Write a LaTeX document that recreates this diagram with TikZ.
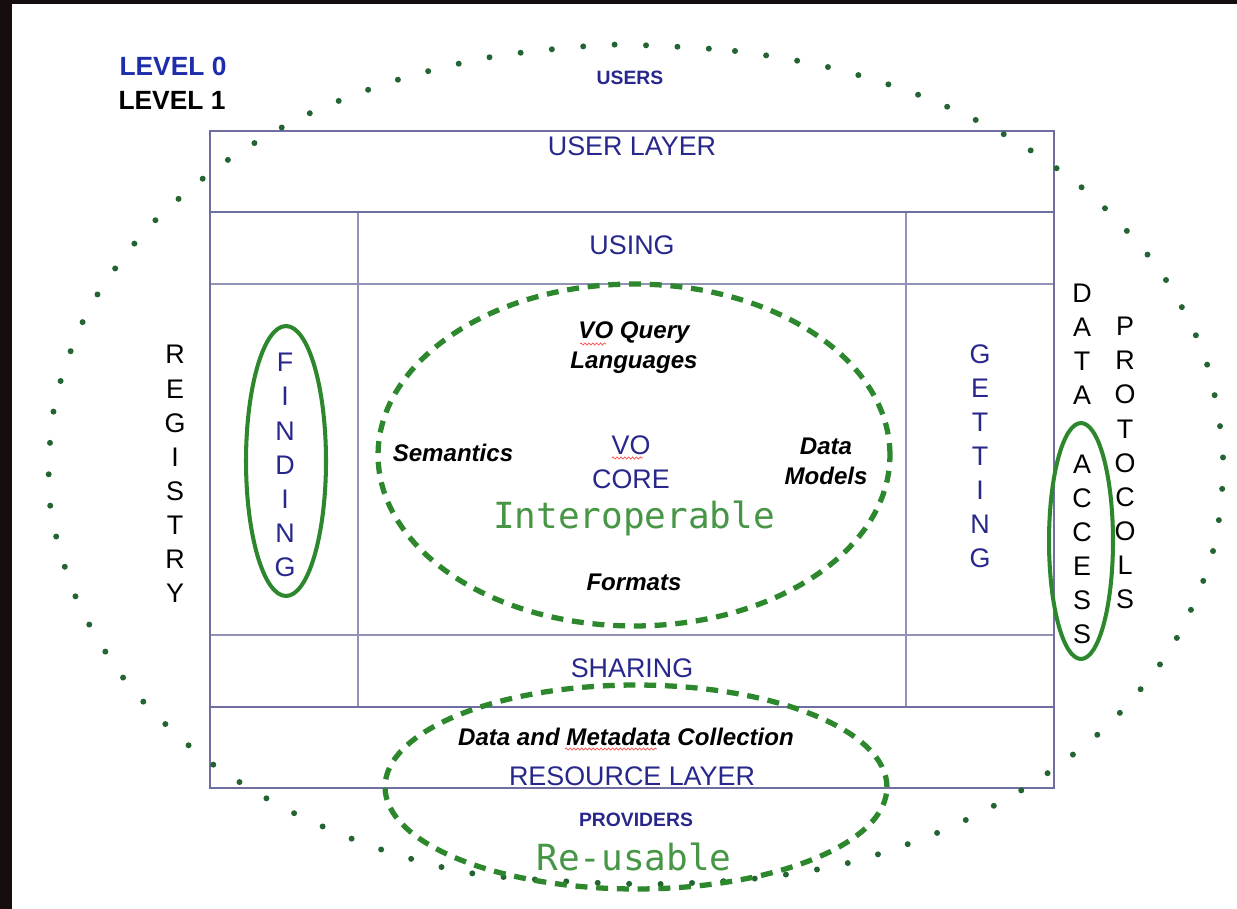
\documentclass[tikz,border=0pt]{standalone}
\usepackage{fontspec}
\setmainfont{Liberation Sans}
\newfontfamily\monofont{DejaVu Sans Mono}
\usepackage{tikz}
\usetikzlibrary{decorations.pathmorphing}
\definecolor{navy}{RGB}{40,40,140}
\definecolor{lvlblue}{RGB}{30,45,170}
\definecolor{linegray}{RGB}{110,110,160}
\definecolor{leaf}{RGB}{45,135,45}
\definecolor{dotgreen}{RGB}{35,100,50}
\definecolor{softgreen}{RGB}{70,150,70}
\definecolor{night}{RGB}{22,14,14}

\begin{document}
\begin{tikzpicture}[x=0.02cm,y=-0.02cm,
  frame/.style={draw=linegray, line width=1.1pt},
  gridline/.style={draw=linegray!75, line width=0.6pt},
  lay/.style={font=\fontsize{15.3}{19.4}\selectfont, text=navy},
  vert/.style={font=\fontsize{15.3}{19.4}\selectfont, align=center},
  lvl/.style={font=\bfseries\fontsize{15}{18}\selectfont},
  tag/.style={font=\bfseries\fontsize{11}{13}\selectfont, text=navy},
  topic/.style={font=\bfseries\itshape\fontsize{13.7}{17}\selectfont, align=center},
  fair/.style={font=\monofont\fontsize{20.5}{24}\selectfont, text=softgreen},
  ring/.style={draw=leaf, line width=2.3pt},
  core/.style={draw=leaf, line width=3pt, dash pattern=on 6.8pt off 5pt},
  dotring/.style={draw=dotgreen, line width=3.4pt, line cap=round, dash pattern=on 0pt off 17.9pt},
  spell/.style={draw=red!70, line width=0.4pt, decorate, decoration={snake, segment length=2.2pt, amplitude=0.6pt}}]
\useasboundingbox (0,0) rectangle (1237,909);
\fill[night] (0,0) rectangle (1237,909);
\fill[white] (12,4) rectangle (1237,909);

\draw[gridline] (210,284) -- (1054,284) (210,635) -- (1054,635)
  (358,212) -- (358,707) (906,212) -- (906,707);
\draw[frame] (210,131) rectangle (1054,788);
\draw[frame] (210,212) -- (1054,212) (210,707) -- (1054,707);

\draw[dotring] plot[smooth cycle] coordinates {(637,45) (735,51) (832,68) (924,97) (1014,140) (1093,197)
  (1160,271) (1205,358) (1223,457) (1212,555) (1171,648) (1108,725) (1030,785) (944,830) (852,862)
  (760,878) (660,884) (560,881) (464,872) (371,846) (282,807) (199,754) (128,684) (77,600) (50,504)
  (55,403) (89,309) (147,229) (222,164) (306,115) (397,80) (491,57) (588,46)};

\node[lvl, text=lvlblue] (level0) at (173,66) {LEVEL 0};
\node[lvl] (level1) at (172,100) {LEVEL 1};
\node[tag] (users) at (630,78) {USERS};
\node[tag] (providers) at (636,820) {PROVIDERS};

\node[lay] (userlayer) at (632,146) {USER LAYER};
\node[lay] (using) at (632,245) {USING};
\node[lay] (sharing) at (632,668) {SHARING};
\node[lay] (resourcelayer) at (632,776) {RESOURCE LAYER};
\node[lay, align=center] (vocore) at (631,462) {VO\\CORE};

\node[vert] (registry) at (175,474) {R\\E\\G\\I\\S\\T\\R\\Y};
\node[vert, text=navy] (finding) at (285,465) {F\\I\\N\\D\\I\\N\\G};
\node[vert, text=navy] (getting) at (980,456) {G\\E\\T\\T\\I\\N\\G};
\node[vert] (dataaccess) at (1082,464) {D\\A\\T\\A\\\mbox{}\\A\\C\\C\\E\\S\\S};
\node[vert] (protocols) at (1125,463) {P\\R\\O\\T\\O\\C\\O\\L\\S};

\node[topic] (query) at (634,348) {VO Query\\Languages};
\node[topic] (semantics) at (453,453) {Semantics};
\node[topic] (models) at (826,461) {Data\\Models};
\node[topic] (formats) at (634,582) {Formats};
\node[topic] (collection) at (626,737) {Data and Metadata Collection};
\node[fair] (interop) at (634,518) {Interoperable};
\node[fair] (reusable) at (634,857) {Re-usable};

\draw[spell] (580,344) -- (606,344);
\draw[spell] (612,458) -- (643,458);
\draw[spell] (565,749) -- (657,749);

\draw[ring] (286,461) ellipse [x radius=0.8cm, y radius=2.7cm];
\draw[ring] (1081,541) ellipse [x radius=0.64cm, y radius=2.36cm];
\draw[core] (634,455) ellipse [x radius=5.12cm, y radius=3.42cm];
\draw[core] (636,787) ellipse [x radius=5.02cm, y radius=2.04cm];
\end{tikzpicture}
\end{document}
